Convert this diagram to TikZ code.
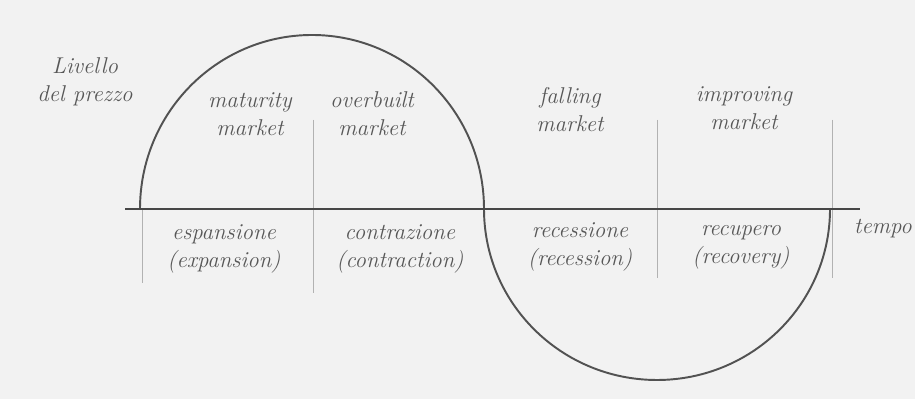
\documentclass[tikz,border=0pt]{standalone}
\usetikzlibrary{positioning}
\tikzset{
  lbl/.style={align=center, text=black!66, inner sep=1pt,
    font=\fontsize{13}{16}\selectfont\itshape},
  divider/.style={draw=black!30, line width=0.5pt},
  axisline/.style={draw=black!72, line width=1.6pt},
  cycle/.style={draw=black!68, line width=1.1pt}
}
\begin{document}
\begin{tikzpicture}
      \fill[black!5] (0,-3.8) rectangle (18.3,4.18);
      \useasboundingbox (0,-3.8) rectangle (18.3,4.18);
      % dividers
      \coordinate (d0t) at (2.84,0);     \coordinate (d0b) at (2.84,-1.48);
      \coordinate (d1t) at (6.26,1.78);  \coordinate (d1b) at (6.26,-1.68);
      \coordinate (d3t) at (13.14,1.78); \coordinate (d3b) at (13.14,-1.38);
      \coordinate (d4t) at (16.64,1.78); \coordinate (d4b) at (16.64,-1.38);
      \begin{scope}[divider]
        \draw (d0t) to (d0b);
        \draw (d1t) to (d1b);
        \draw (d3t) to (d3b);
        \draw (d4t) to (d4b);
      \end{scope}
      % the cycle
      \coordinate (peak) at (2.8,0);
      \draw[cycle] (peak) arc[start angle=180, end angle=0, x radius=3.44, y radius=3.48]
        coordinate (turn)
        arc[start angle=180, end angle=360, x radius=3.46, y radius=3.42];
      % time axis
      \coordinate (a0) at (2.5,0);
      \coordinate (a1) at (17.2,0);
      \draw[axisline] (a0) to (a1);
      \draw
        (1.7,2.55) node[lbl] (livello){Livello\\del prezzo}
        (5.0,1.9) node[lbl] (maturity){maturity\\market}
        (7.44,1.9) node[lbl] (overbuilt){overbuilt\\market}
        (11.4,1.98) node[lbl] (falling){falling\\market}
        (14.88,2.02) node[lbl] (improving){improving\\market}
        (4.48,-0.8) node[lbl] (espansione){espansione\\(expansion)}
        (8.0,-0.8) node[lbl] (contrazione){contrazione\\(contraction)}
        (11.6,-0.76) node[lbl] (recessione){recessione\\(recession)}
        (14.82,-0.76) node[lbl] (recupero){recupero\\(recovery)}
        (17.66,-0.4) node[lbl] (tempo){tempo};
    \end{tikzpicture}
\end{document}
